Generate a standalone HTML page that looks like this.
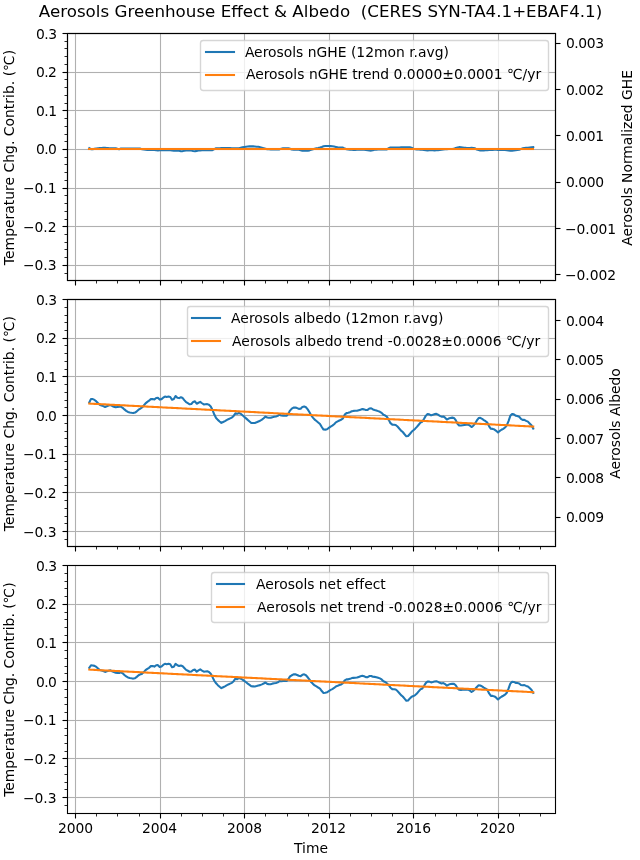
<!DOCTYPE html>
<html lang="en">
<head>
<meta charset="utf-8">
<title>Aerosols Greenhouse Effect &amp; Albedo (CERES SYN-TA4.1+EBAF4.1)</title>
<style>
html,body{margin:0;padding:0;background:#fff;}
body{width:640px;height:860px;overflow:hidden;}
svg{display:block;}
text{white-space:pre;}
</style>
</head>
<body>
<svg width="640" height="860" viewBox="0 0 640 860" role="img" aria-label="Aerosols Greenhouse Effect and Albedo">
<rect width="640" height="860" fill="#fff"/>
<g id="axes1">
<path d="M74 34h1v246h-1zM76 34h1v246h-1zM159 34h1v246h-1zM161 34h1v246h-1zM243 34h1v246h-1zM245 34h1v246h-1zM328 34h1v246h-1zM330 34h1v246h-1zM412 34h1v246h-1zM414 34h1v246h-1zM497 34h1v246h-1zM499 34h1v246h-1zM68 264h487v1h-487zM68 266h487v1h-487zM68 225h487v1h-487zM68 227h487v1h-487zM68 187h487v1h-487zM68 189h487v1h-487zM68 148h487v1h-487zM68 150h487v1h-487zM68 109h487v1h-487zM68 111h487v1h-487zM68 71h487v1h-487zM68 73h487v1h-487zM68 32h487v1h-487zM68 34h487v1h-487z" fill="#b0b0b0" fill-opacity="0.056"/>
<path d="M75 33h1v1h-1zM75 280h1v1h-1zM160 33h1v1h-1zM160 280h1v1h-1zM244 33h1v1h-1zM244 280h1v1h-1zM329 33h1v1h-1zM329 280h1v1h-1zM413 33h1v1h-1zM413 280h1v1h-1zM498 33h1v1h-1zM498 280h1v1h-1zM67 265h1v1h-1zM555 265h1v1h-1zM67 226h1v1h-1zM555 226h1v1h-1zM67 188h1v1h-1zM555 188h1v1h-1zM67 149h1v1h-1zM555 149h1v1h-1zM67 110h1v1h-1zM555 110h1v1h-1zM67 72h1v1h-1zM555 72h1v1h-1zM67 33h1v1h-1zM555 33h1v1h-1z" fill="#b0b0b0" fill-opacity="0.5"/>
<path d="M75 34h1v246h-1zM160 34h1v246h-1zM244 34h1v246h-1zM329 34h1v246h-1zM413 34h1v246h-1zM498 34h1v246h-1zM68 265h487v1h-487zM68 226h487v1h-487zM68 188h487v1h-487zM68 149h487v1h-487zM68 110h487v1h-487zM68 72h487v1h-487zM68 33h487v1h-487z" fill="#b0b0b0"/>
<polyline points="89.27,148.12 91,149.24 92.8,149.31 94.54,148.82 96.33,148.42 98.12,148.21 99.74,148.09 101.54,147.97 103.28,147.85 105.07,147.81 106.81,147.96 108.6,148.11 110.4,148.22 112.13,148.25 113.93,148.28 115.66,148.31 117.46,148.86 119.25,149.15 120.87,148.58 122.67,148.42 124.4,148.42 126.2,148.42 127.93,148.42 129.73,148.42 131.52,148.43 133.26,148.45 135.05,148.47 136.79,148.49 138.58,148.5 140.38,148.65 142,149.28 143.79,149.54 145.53,149.69 147.32,149.84 149.06,150 150.86,150.06 152.65,149.82 154.39,149.92 156.18,150.25 157.92,150.36 159.71,150.24 161.51,150.19 163.18,150.15 164.98,150.12 166.72,150.12 168.51,150.12 170.25,150.16 172.04,150.41 173.84,150.66 175.57,150.73 177.37,150.47 179.1,150.75 180.9,151.17 182.69,151.1 184.31,150.77 186.11,150.57 187.84,150.48 189.64,150.39 191.37,150.44 193.17,150.93 194.96,151.24 196.7,150.87 198.49,150.51 200.23,150.39 202.02,150.26 203.82,150.13 205.44,150.12 207.23,150.12 208.97,150.12 210.76,150.12 212.5,150.12 214.3,149.13 216.09,148.22 217.83,148.2 219.62,148.18 221.36,148.16 223.15,148.14 224.95,148.12 226.57,148.13 228.36,148.14 230.1,148.16 231.89,148.17 233.63,148.18 235.42,148.19 237.22,148.21 238.95,148.21 240.75,147.77 242.48,147.33 244.28,147.01 246.07,146.8 247.75,146.59 249.55,146.38 251.28,146.25 253.08,146.39 254.81,146.53 256.61,146.67 258.4,146.82 260.14,147.26 261.93,147.7 263.67,148.14 265.46,148.75 267.26,149.32 268.88,149.33 270.67,149.35 272.41,149.36 274.2,149.37 275.94,149.39 277.74,149.4 279.53,149.41 281.27,148.64 283.06,148.22 284.8,148.22 286.59,148.22 288.39,148.22 290.01,148.74 291.8,149.56 293.54,149.66 295.33,149.7 297.07,149.75 298.86,149.79 300.66,150.27 302.39,150.82 304.19,150.82 305.92,150.82 307.72,150.82 309.51,150.37 311.13,149.83 312.93,149.18 314.67,148.66 316.46,148.31 318.2,147.94 319.99,147.47 321.78,146.92 323.52,146.27 325.32,146.06 327.05,145.99 328.85,145.92 330.64,146.1 332.32,146.3 334.11,146.58 335.85,146.96 337.64,147.35 339.38,147.48 341.18,147.55 342.97,147.62 344.71,148.58 346.5,149.18 348.24,149.44 350.03,149.59 351.83,149.73 353.45,149.88 355.24,149.84 356.98,149.74 358.77,149.64 360.51,149.54 362.3,149.65 364.1,149.83 365.83,150 367.63,150.21 369.36,150.42 371.16,150.59 372.95,150.19 374.57,149.8 376.37,149.6 378.11,149.55 379.9,149.51 381.64,149.47 383.43,149.43 385.22,149.42 386.96,149.41 388.76,148.24 390.49,147.42 392.29,147.42 394.08,147.42 395.7,147.42 397.5,147.42 399.23,147.42 401.03,147.41 402.76,147.39 404.56,147.37 406.35,147.35 408.09,147.34 409.88,147.32 411.62,147.79 413.41,148.64 415.21,149.32 416.89,149.53 418.68,149.56 420.42,149.59 422.21,149.65 423.95,149.9 425.74,150.16 427.54,150.41 429.27,150.17 431.07,149.92 432.8,150.14 434.6,150.36 436.39,150.28 438.01,150.11 439.81,149.93 441.55,149.72 443.34,149.5 445.08,149.3 446.87,149.13 448.66,148.95 450.4,148.98 452.2,149.06 453.93,148.83 455.73,147.96 457.52,147.51 459.14,147.14 460.94,147.32 462.67,147.49 464.47,147.68 466.2,147.88 468,147.99 469.79,147.92 471.53,147.84 473.32,148.04 475.06,148.39 476.85,149.52 478.65,150.05 480.27,150.58 482.06,150.51 483.8,150.39 485.59,150.27 487.33,150.16 489.13,150.06 490.92,149.96 492.66,149.87 494.45,149.77 496.19,149.81 497.98,150.02 499.78,149.95 501.45,149.88 503.25,149.86 504.99,150.09 506.78,150.31 508.52,150.51 510.31,150.72 512.1,150.69 513.84,150.43 515.64,150.17 517.37,149.91 519.17,149.65 520.96,149.02 522.58,148.38 524.38,148.11 526.11,147.9 527.91,147.72 529.64,147.53 531.44,147.33 533.23,147.12" fill="none" stroke="#1f77b4" stroke-width="2.08" stroke-linejoin="round" stroke-linecap="square"/>
<path d="M87 148h1v2h-1zM88 147h446v1h-446zM88 150h446v1h-446zM534 148h1v2h-1z" fill="#ff7f0e" fill-opacity="0.042"/>
<path d="M88 148h446v2h-446z" fill="#ff7f0e"/>
<path d="M74 281h1v4h-1zM76 281h1v4h-1zM159 281h1v4h-1zM161 281h1v4h-1zM243 281h1v4h-1zM245 281h1v4h-1zM328 281h1v4h-1zM330 281h1v4h-1zM412 281h1v4h-1zM414 281h1v4h-1zM497 281h1v4h-1zM499 281h1v4h-1zM63 264h4v1h-4zM63 266h4v1h-4zM63 225h4v1h-4zM63 227h4v1h-4zM63 187h4v1h-4zM63 189h4v1h-4zM63 148h4v1h-4zM63 150h4v1h-4zM63 109h4v1h-4zM63 111h4v1h-4zM63 71h4v1h-4zM63 73h4v1h-4zM63 32h4v1h-4zM63 34h4v1h-4z" fill="#000" fill-opacity="0.056"/>
<path d="M75 280h1v1h-1zM75 285h1v1h-1zM160 280h1v1h-1zM160 285h1v1h-1zM244 280h1v1h-1zM244 285h1v1h-1zM329 280h1v1h-1zM329 285h1v1h-1zM413 280h1v1h-1zM413 285h1v1h-1zM498 280h1v1h-1zM498 285h1v1h-1zM62 265h1v1h-1zM67 265h1v1h-1zM62 226h1v1h-1zM67 226h1v1h-1zM62 188h1v1h-1zM67 188h1v1h-1zM62 149h1v1h-1zM67 149h1v1h-1zM62 110h1v1h-1zM67 110h1v1h-1zM62 72h1v1h-1zM67 72h1v1h-1zM62 33h1v1h-1zM67 33h1v1h-1z" fill="#000" fill-opacity="0.5"/>
<path d="M75 281h1v4h-1zM160 281h1v4h-1zM244 281h1v4h-1zM329 281h1v4h-1zM413 281h1v4h-1zM498 281h1v4h-1zM63 265h4v1h-4zM63 226h4v1h-4zM63 188h4v1h-4zM63 149h4v1h-4zM63 110h4v1h-4zM63 72h4v1h-4zM63 33h4v1h-4z" fill="#000"/>
<path d="M96 280h1v1h-1zM96 283h1v1h-1zM117 280h1v1h-1zM117 283h1v1h-1zM139 280h1v1h-1zM139 283h1v1h-1zM181 280h1v1h-1zM181 283h1v1h-1zM202 280h1v1h-1zM202 283h1v1h-1zM223 280h1v1h-1zM223 283h1v1h-1zM265 280h1v1h-1zM265 283h1v1h-1zM287 280h1v1h-1zM287 283h1v1h-1zM308 280h1v1h-1zM308 283h1v1h-1zM350 280h1v1h-1zM350 283h1v1h-1zM371 280h1v1h-1zM371 283h1v1h-1zM392 280h1v1h-1zM392 283h1v1h-1zM435 280h1v1h-1zM435 283h1v1h-1zM456 280h1v1h-1zM456 283h1v1h-1zM477 280h1v1h-1zM477 283h1v1h-1zM519 280h1v1h-1zM519 283h1v1h-1zM540 280h1v1h-1zM540 283h1v1h-1zM64 273h1v1h-1zM67 273h1v1h-1zM64 257h1v1h-1zM67 257h1v1h-1zM64 249h1v1h-1zM67 249h1v1h-1zM64 242h1v1h-1zM67 242h1v1h-1zM64 234h1v1h-1zM67 234h1v1h-1zM64 219h1v1h-1zM67 219h1v1h-1zM64 211h1v1h-1zM67 211h1v1h-1zM64 203h1v1h-1zM67 203h1v1h-1zM64 195h1v1h-1zM67 195h1v1h-1zM64 180h1v1h-1zM67 180h1v1h-1zM64 172h1v1h-1zM67 172h1v1h-1zM64 164h1v1h-1zM67 164h1v1h-1zM64 157h1v1h-1zM67 157h1v1h-1zM64 141h1v1h-1zM67 141h1v1h-1zM64 134h1v1h-1zM67 134h1v1h-1zM64 126h1v1h-1zM67 126h1v1h-1zM64 118h1v1h-1zM67 118h1v1h-1zM64 103h1v1h-1zM67 103h1v1h-1zM64 95h1v1h-1zM67 95h1v1h-1zM64 87h1v1h-1zM67 87h1v1h-1zM64 79h1v1h-1zM67 79h1v1h-1zM64 64h1v1h-1zM67 64h1v1h-1zM64 56h1v1h-1zM67 56h1v1h-1zM64 48h1v1h-1zM67 48h1v1h-1zM64 41h1v1h-1zM67 41h1v1h-1z" fill="#000" fill-opacity="0.417"/>
<path d="M96 281h1v2h-1zM117 281h1v2h-1zM139 281h1v2h-1zM181 281h1v2h-1zM202 281h1v2h-1zM223 281h1v2h-1zM265 281h1v2h-1zM287 281h1v2h-1zM308 281h1v2h-1zM350 281h1v2h-1zM371 281h1v2h-1zM392 281h1v2h-1zM435 281h1v2h-1zM456 281h1v2h-1zM477 281h1v2h-1zM519 281h1v2h-1zM540 281h1v2h-1zM65 273h2v1h-2zM65 257h2v1h-2zM65 249h2v1h-2zM65 242h2v1h-2zM65 234h2v1h-2zM65 219h2v1h-2zM65 211h2v1h-2zM65 203h2v1h-2zM65 195h2v1h-2zM65 180h2v1h-2zM65 172h2v1h-2zM65 164h2v1h-2zM65 157h2v1h-2zM65 141h2v1h-2zM65 134h2v1h-2zM65 126h2v1h-2zM65 118h2v1h-2zM65 103h2v1h-2zM65 95h2v1h-2zM65 87h2v1h-2zM65 79h2v1h-2zM65 64h2v1h-2zM65 56h2v1h-2zM65 48h2v1h-2zM65 41h2v1h-2z" fill="#000" fill-opacity="0.833"/>
<path d="M66 33h1v248h-1zM67 32h1v1h-1zM67 281h1v1h-1zM68 33h1v248h-1zM554 33h1v248h-1zM555 32h1v1h-1zM555 281h1v1h-1zM556 33h1v248h-1zM66 280h1v1h-1zM67 279h489v1h-489zM67 281h489v1h-489zM556 280h1v1h-1zM66 33h1v1h-1zM67 32h489v1h-489zM67 34h489v1h-489zM556 33h1v1h-1z" fill="#000" fill-opacity="0.056"/>
<path d="M67 33h1v248h-1zM555 33h1v248h-1zM67 280h489v1h-489zM67 33h489v1h-489z" fill="#000"/>
<rect x="200.5" y="40.5" width="348" height="50" rx="2.8" ry="2.8" fill="#fff" fill-opacity="0.8" stroke="#ccc" stroke-opacity="0.8" stroke-width="1.389"/>
<path d="M204 51h1v2h-1zM205 50h30v1h-30zM205 53h30v1h-30zM235 51h1v2h-1z" fill="#1f77b4" fill-opacity="0.042"/>
<path d="M205 51h30v2h-30z" fill="#1f77b4"/>
<path d="M204 74h1v2h-1zM205 73h30v1h-30zM205 76h30v1h-30zM235 74h1v2h-1z" fill="#ff7f0e" fill-opacity="0.042"/>
<path d="M205 74h30v2h-30z" fill="#ff7f0e"/>
</g>
<g id="axes2">
<path d="M74 300h1v246h-1zM76 300h1v246h-1zM159 300h1v246h-1zM161 300h1v246h-1zM243 300h1v246h-1zM245 300h1v246h-1zM328 300h1v246h-1zM330 300h1v246h-1zM412 300h1v246h-1zM414 300h1v246h-1zM497 300h1v246h-1zM499 300h1v246h-1zM68 530h487v1h-487zM68 532h487v1h-487zM68 491h487v1h-487zM68 493h487v1h-487zM68 453h487v1h-487zM68 455h487v1h-487zM68 414h487v1h-487zM68 416h487v1h-487zM68 375h487v1h-487zM68 377h487v1h-487zM68 337h487v1h-487zM68 339h487v1h-487zM68 298h487v1h-487zM68 300h487v1h-487z" fill="#b0b0b0" fill-opacity="0.056"/>
<path d="M75 299h1v1h-1zM75 546h1v1h-1zM160 299h1v1h-1zM160 546h1v1h-1zM244 299h1v1h-1zM244 546h1v1h-1zM329 299h1v1h-1zM329 546h1v1h-1zM413 299h1v1h-1zM413 546h1v1h-1zM498 299h1v1h-1zM498 546h1v1h-1zM67 531h1v1h-1zM555 531h1v1h-1zM67 492h1v1h-1zM555 492h1v1h-1zM67 454h1v1h-1zM555 454h1v1h-1zM67 415h1v1h-1zM555 415h1v1h-1zM67 376h1v1h-1zM555 376h1v1h-1zM67 338h1v1h-1zM555 338h1v1h-1zM67 299h1v1h-1zM555 299h1v1h-1z" fill="#b0b0b0" fill-opacity="0.5"/>
<path d="M75 300h1v246h-1zM160 300h1v246h-1zM244 300h1v246h-1zM329 300h1v246h-1zM413 300h1v246h-1zM498 300h1v246h-1zM68 531h487v1h-487zM68 492h487v1h-487zM68 454h487v1h-487zM68 415h487v1h-487zM68 376h487v1h-487zM68 338h487v1h-487zM68 299h487v1h-487z" fill="#b0b0b0"/>
<polyline points="89.27,402.52 91,398.92 92.8,399.07 94.54,399.94 96.33,401.42 98.12,403.29 99.74,404.75 101.54,405.52 103.28,406.13 105.07,407.01 106.81,406.32 108.6,405.59 110.4,405 112.13,405.93 113.93,406.69 115.66,407.25 117.46,407.01 119.25,406.74 120.87,406.64 122.67,407.79 124.4,409.43 126.2,410.87 127.93,411.97 129.73,412.41 131.52,412.77 133.26,413.06 135.05,412.58 136.79,411.29 138.58,409.67 140.38,408.55 142,407.49 143.79,405.45 145.53,403.38 147.32,401.92 149.06,400.67 150.86,398.98 152.65,399.09 154.39,399.57 156.18,397.91 157.92,397.68 159.71,399.59 161.51,399.12 163.18,397.69 164.98,396.52 166.72,396.96 168.51,396.52 170.25,396.94 172.04,399.77 173.84,399.05 175.57,396.01 177.37,397.68 179.1,398.1 180.9,397.24 182.69,398.04 184.31,400.06 186.11,402.19 187.84,403.22 189.64,404.29 191.37,403.96 193.17,401.93 194.96,401.3 196.7,403.75 198.49,402.77 200.23,401.92 202.02,403.26 203.82,404.47 205.44,404.23 207.23,404.11 208.97,404.77 210.76,406.52 212.5,409.92 214.3,414.55 216.09,417.96 217.83,419.88 219.62,421.47 221.36,422.87 223.15,421.99 224.95,421.09 226.57,420.14 228.36,419.2 230.1,418.39 231.89,417.58 233.63,415.89 235.42,413.38 237.22,413.83 238.95,412.8 240.75,413.81 242.48,415.19 244.28,416.84 246.07,418.37 247.75,419.88 249.55,421.42 251.28,422.92 253.08,422.92 254.81,422.92 256.61,422.26 258.4,421.51 260.14,420.75 261.93,419.59 263.67,418.26 265.46,416.64 267.26,417.47 268.88,417.82 270.67,417.79 272.41,417.16 274.2,416.83 275.94,416.57 277.74,415.88 279.53,414.54 281.27,415.54 283.06,415.61 284.8,415.53 286.59,415.72 288.39,413.62 290.01,410.59 291.8,408.61 293.54,407.61 295.33,407.42 297.07,408.09 298.86,408.91 300.66,408.75 302.39,406.9 304.19,406.44 305.92,407.3 307.72,409.39 309.51,412.22 311.13,415.14 312.93,417.58 314.67,419.67 316.46,421.04 318.2,422.48 319.99,423.98 321.78,427.03 323.52,429.58 325.32,429.63 327.05,429.26 328.85,427.97 330.64,426.65 332.32,425.68 334.11,424.27 335.85,422.4 337.64,421.38 339.38,420.46 341.18,419.8 342.97,418.4 344.71,414.64 346.5,413.13 348.24,412.82 350.03,412.17 351.83,411.24 353.45,410.91 355.24,410.82 356.98,410.74 358.77,410.21 360.51,409.66 362.3,409.1 364.1,409.38 365.83,409.98 367.63,409.9 369.36,408.51 371.16,408.26 372.95,409.46 374.57,409.98 376.37,410.5 378.11,411.13 379.9,411.77 381.64,412.85 383.43,414.77 385.22,415.5 386.96,416.86 388.76,419.87 390.49,423.17 392.29,424.63 394.08,424.82 395.7,425.02 397.5,426.56 399.23,428.49 401.03,430.58 402.76,432.02 404.56,434.22 406.35,436.31 408.09,436.03 409.88,434 411.62,431.82 413.41,430.31 415.21,428.64 416.89,426.9 418.68,424.76 420.42,422.64 422.21,421.8 423.95,419.02 425.74,415.87 427.54,414.08 429.27,414.37 431.07,415.37 432.8,414.83 434.6,414.11 436.39,413.79 438.01,414.67 439.81,415.81 441.55,416.67 443.34,416.48 445.08,417.68 446.87,419.47 448.66,418.59 450.4,417.97 452.2,417.64 453.93,417.93 455.73,420.17 457.52,423.71 459.14,425.55 460.94,425.54 462.67,425.22 464.47,424.98 466.2,424.75 468,424.38 469.79,425.52 471.53,427.04 473.32,425.72 475.06,423.55 476.85,420.41 478.65,418.06 480.27,417.79 482.06,418.79 483.8,420.1 485.59,421.2 487.33,422.62 489.13,426.32 490.92,428.8 492.66,428.9 494.45,429.58 496.19,430.79 497.98,432.42 499.78,430.89 501.45,429.76 503.25,428.8 504.99,427.53 506.78,425.31 508.52,421.08 510.31,415.83 512.1,413.93 513.84,414.38 515.64,415.61 517.37,415.98 519.17,416.69 520.96,418.92 522.58,419.84 524.38,419.88 526.11,420.91 527.91,421.65 529.64,423.47 531.44,425.29 533.23,428.62" fill="none" stroke="#1f77b4" stroke-width="2.08" stroke-linejoin="round" stroke-linecap="square"/>
<polyline points="89.27,403.58 91,403.67 92.8,403.77 94.54,403.86 96.33,403.95 98.12,404.04 99.74,404.13 101.54,404.22 103.28,404.31 105.07,404.4 106.81,404.5 108.6,404.59 110.4,404.68 112.13,404.77 113.93,404.86 115.66,404.95 117.46,405.04 119.25,405.14 120.87,405.23 122.67,405.32 124.4,405.41 126.2,405.5 127.93,405.59 129.73,405.68 131.52,405.77 133.26,405.87 135.05,405.96 136.79,406.05 138.58,406.14 140.38,406.23 142,406.32 143.79,406.41 145.53,406.5 147.32,406.6 149.06,406.69 150.86,406.78 152.65,406.87 154.39,406.96 156.18,407.05 157.92,407.14 159.71,407.23 161.51,407.33 163.18,407.42 164.98,407.51 166.72,407.6 168.51,407.69 170.25,407.78 172.04,407.87 173.84,407.96 175.57,408.06 177.37,408.15 179.1,408.24 180.9,408.33 182.69,408.42 184.31,408.51 186.11,408.6 187.84,408.69 189.64,408.79 191.37,408.88 193.17,408.97 194.96,409.06 196.7,409.15 198.49,409.24 200.23,409.33 202.02,409.43 203.82,409.52 205.44,409.61 207.23,409.7 208.97,409.79 210.76,409.88 212.5,409.97 214.3,410.06 216.09,410.16 217.83,410.25 219.62,410.34 221.36,410.43 223.15,410.52 224.95,410.61 226.57,410.7 228.36,410.79 230.1,410.89 231.89,410.98 233.63,411.07 235.42,411.16 237.22,411.25 238.95,411.34 240.75,411.43 242.48,411.52 244.28,411.62 246.07,411.71 247.75,411.8 249.55,411.89 251.28,411.98 253.08,412.07 254.81,412.16 256.61,412.25 258.4,412.35 260.14,412.44 261.93,412.53 263.67,412.62 265.46,412.71 267.26,412.8 268.88,412.89 270.67,412.99 272.41,413.08 274.2,413.17 275.94,413.26 277.74,413.35 279.53,413.44 281.27,413.53 283.06,413.62 284.8,413.72 286.59,413.81 288.39,413.9 290.01,413.99 291.8,414.08 293.54,414.17 295.33,414.26 297.07,414.35 298.86,414.45 300.66,414.54 302.39,414.63 304.19,414.72 305.92,414.81 307.72,414.9 309.51,414.99 311.13,415.08 312.93,415.18 314.67,415.27 316.46,415.36 318.2,415.45 319.99,415.54 321.78,415.63 323.52,415.72 325.32,415.81 327.05,415.91 328.85,416 330.64,416.09 332.32,416.18 334.11,416.27 335.85,416.36 337.64,416.45 339.38,416.55 341.18,416.64 342.97,416.73 344.71,416.82 346.5,416.91 348.24,417 350.03,417.09 351.83,417.18 353.45,417.28 355.24,417.37 356.98,417.46 358.77,417.55 360.51,417.64 362.3,417.73 364.1,417.82 365.83,417.91 367.63,418.01 369.36,418.1 371.16,418.19 372.95,418.28 374.57,418.37 376.37,418.46 378.11,418.55 379.9,418.64 381.64,418.74 383.43,418.83 385.22,418.92 386.96,419.01 388.76,419.1 390.49,419.19 392.29,419.28 394.08,419.37 395.7,419.47 397.5,419.56 399.23,419.65 401.03,419.74 402.76,419.83 404.56,419.92 406.35,420.01 408.09,420.11 409.88,420.2 411.62,420.29 413.41,420.38 415.21,420.47 416.89,420.56 418.68,420.65 420.42,420.74 422.21,420.84 423.95,420.93 425.74,421.02 427.54,421.11 429.27,421.2 431.07,421.29 432.8,421.38 434.6,421.47 436.39,421.57 438.01,421.66 439.81,421.75 441.55,421.84 443.34,421.93 445.08,422.02 446.87,422.11 448.66,422.2 450.4,422.3 452.2,422.39 453.93,422.48 455.73,422.57 457.52,422.66 459.14,422.75 460.94,422.84 462.67,422.93 464.47,423.03 466.2,423.12 468,423.21 469.79,423.3 471.53,423.39 473.32,423.48 475.06,423.57 476.85,423.67 478.65,423.76 480.27,423.85 482.06,423.94 483.8,424.03 485.59,424.12 487.33,424.21 489.13,424.3 490.92,424.4 492.66,424.49 494.45,424.58 496.19,424.67 497.98,424.76 499.78,424.85 501.45,424.94 503.25,425.03 504.99,425.13 506.78,425.22 508.52,425.31 510.31,425.4 512.1,425.49 513.84,425.58 515.64,425.67 517.37,425.76 519.17,425.86 520.96,425.95 522.58,426.04 524.38,426.13 526.11,426.22 527.91,426.31 529.64,426.4 531.44,426.49 533.23,426.59" fill="none" stroke="#ff7f0e" stroke-width="2.08" stroke-linejoin="round" stroke-linecap="square"/>
<path d="M74 547h1v4h-1zM76 547h1v4h-1zM159 547h1v4h-1zM161 547h1v4h-1zM243 547h1v4h-1zM245 547h1v4h-1zM328 547h1v4h-1zM330 547h1v4h-1zM412 547h1v4h-1zM414 547h1v4h-1zM497 547h1v4h-1zM499 547h1v4h-1zM63 530h4v1h-4zM63 532h4v1h-4zM63 491h4v1h-4zM63 493h4v1h-4zM63 453h4v1h-4zM63 455h4v1h-4zM63 414h4v1h-4zM63 416h4v1h-4zM63 375h4v1h-4zM63 377h4v1h-4zM63 337h4v1h-4zM63 339h4v1h-4zM63 298h4v1h-4zM63 300h4v1h-4z" fill="#000" fill-opacity="0.056"/>
<path d="M75 546h1v1h-1zM75 551h1v1h-1zM160 546h1v1h-1zM160 551h1v1h-1zM244 546h1v1h-1zM244 551h1v1h-1zM329 546h1v1h-1zM329 551h1v1h-1zM413 546h1v1h-1zM413 551h1v1h-1zM498 546h1v1h-1zM498 551h1v1h-1zM62 531h1v1h-1zM67 531h1v1h-1zM62 492h1v1h-1zM67 492h1v1h-1zM62 454h1v1h-1zM67 454h1v1h-1zM62 415h1v1h-1zM67 415h1v1h-1zM62 376h1v1h-1zM67 376h1v1h-1zM62 338h1v1h-1zM67 338h1v1h-1zM62 299h1v1h-1zM67 299h1v1h-1z" fill="#000" fill-opacity="0.5"/>
<path d="M75 547h1v4h-1zM160 547h1v4h-1zM244 547h1v4h-1zM329 547h1v4h-1zM413 547h1v4h-1zM498 547h1v4h-1zM63 531h4v1h-4zM63 492h4v1h-4zM63 454h4v1h-4zM63 415h4v1h-4zM63 376h4v1h-4zM63 338h4v1h-4zM63 299h4v1h-4z" fill="#000"/>
<path d="M96 546h1v1h-1zM96 549h1v1h-1zM117 546h1v1h-1zM117 549h1v1h-1zM139 546h1v1h-1zM139 549h1v1h-1zM181 546h1v1h-1zM181 549h1v1h-1zM202 546h1v1h-1zM202 549h1v1h-1zM223 546h1v1h-1zM223 549h1v1h-1zM265 546h1v1h-1zM265 549h1v1h-1zM287 546h1v1h-1zM287 549h1v1h-1zM308 546h1v1h-1zM308 549h1v1h-1zM350 546h1v1h-1zM350 549h1v1h-1zM371 546h1v1h-1zM371 549h1v1h-1zM392 546h1v1h-1zM392 549h1v1h-1zM435 546h1v1h-1zM435 549h1v1h-1zM456 546h1v1h-1zM456 549h1v1h-1zM477 546h1v1h-1zM477 549h1v1h-1zM519 546h1v1h-1zM519 549h1v1h-1zM540 546h1v1h-1zM540 549h1v1h-1zM64 539h1v1h-1zM67 539h1v1h-1zM64 523h1v1h-1zM67 523h1v1h-1zM64 516h1v1h-1zM67 516h1v1h-1zM64 508h1v1h-1zM67 508h1v1h-1zM64 500h1v1h-1zM67 500h1v1h-1zM64 485h1v1h-1zM67 485h1v1h-1zM64 477h1v1h-1zM67 477h1v1h-1zM64 469h1v1h-1zM67 469h1v1h-1zM64 461h1v1h-1zM67 461h1v1h-1zM64 446h1v1h-1zM67 446h1v1h-1zM64 438h1v1h-1zM67 438h1v1h-1zM64 431h1v1h-1zM67 431h1v1h-1zM64 423h1v1h-1zM67 423h1v1h-1zM64 407h1v1h-1zM67 407h1v1h-1zM64 400h1v1h-1zM67 400h1v1h-1zM64 392h1v1h-1zM67 392h1v1h-1zM64 384h1v1h-1zM67 384h1v1h-1zM64 369h1v1h-1zM67 369h1v1h-1zM64 361h1v1h-1zM67 361h1v1h-1zM64 353h1v1h-1zM67 353h1v1h-1zM64 345h1v1h-1zM67 345h1v1h-1zM64 330h1v1h-1zM67 330h1v1h-1zM64 322h1v1h-1zM67 322h1v1h-1zM64 315h1v1h-1zM67 315h1v1h-1zM64 307h1v1h-1zM67 307h1v1h-1z" fill="#000" fill-opacity="0.417"/>
<path d="M96 547h1v2h-1zM117 547h1v2h-1zM139 547h1v2h-1zM181 547h1v2h-1zM202 547h1v2h-1zM223 547h1v2h-1zM265 547h1v2h-1zM287 547h1v2h-1zM308 547h1v2h-1zM350 547h1v2h-1zM371 547h1v2h-1zM392 547h1v2h-1zM435 547h1v2h-1zM456 547h1v2h-1zM477 547h1v2h-1zM519 547h1v2h-1zM540 547h1v2h-1zM65 539h2v1h-2zM65 523h2v1h-2zM65 516h2v1h-2zM65 508h2v1h-2zM65 500h2v1h-2zM65 485h2v1h-2zM65 477h2v1h-2zM65 469h2v1h-2zM65 461h2v1h-2zM65 446h2v1h-2zM65 438h2v1h-2zM65 431h2v1h-2zM65 423h2v1h-2zM65 407h2v1h-2zM65 400h2v1h-2zM65 392h2v1h-2zM65 384h2v1h-2zM65 369h2v1h-2zM65 361h2v1h-2zM65 353h2v1h-2zM65 345h2v1h-2zM65 330h2v1h-2zM65 322h2v1h-2zM65 315h2v1h-2zM65 307h2v1h-2z" fill="#000" fill-opacity="0.833"/>
<path d="M66 299h1v248h-1zM67 298h1v1h-1zM67 547h1v1h-1zM68 299h1v248h-1zM554 299h1v248h-1zM555 298h1v1h-1zM555 547h1v1h-1zM556 299h1v248h-1zM66 546h1v1h-1zM67 545h489v1h-489zM67 547h489v1h-489zM556 546h1v1h-1zM66 299h1v1h-1zM67 298h489v1h-489zM67 300h489v1h-489zM556 299h1v1h-1z" fill="#000" fill-opacity="0.056"/>
<path d="M67 299h1v248h-1zM555 299h1v248h-1zM67 546h489v1h-489zM67 299h489v1h-489z" fill="#000"/>
<rect x="187.5" y="306.5" width="361" height="50" rx="2.8" ry="2.8" fill="#fff" fill-opacity="0.8" stroke="#ccc" stroke-opacity="0.8" stroke-width="1.389"/>
<path d="M190 317h1v2h-1zM191 316h30v1h-30zM191 319h30v1h-30zM221 317h1v2h-1z" fill="#1f77b4" fill-opacity="0.042"/>
<path d="M191 317h30v2h-30z" fill="#1f77b4"/>
<path d="M190 340h1v2h-1zM191 339h30v1h-30zM191 342h30v1h-30zM221 340h1v2h-1z" fill="#ff7f0e" fill-opacity="0.042"/>
<path d="M191 340h30v2h-30z" fill="#ff7f0e"/>
</g>
<g id="axes3">
<path d="M74 566h1v247h-1zM76 566h1v247h-1zM159 566h1v247h-1zM161 566h1v247h-1zM243 566h1v247h-1zM245 566h1v247h-1zM328 566h1v247h-1zM330 566h1v247h-1zM412 566h1v247h-1zM414 566h1v247h-1zM497 566h1v247h-1zM499 566h1v247h-1zM68 796h487v1h-487zM68 798h487v1h-487zM68 757h487v1h-487zM68 759h487v1h-487zM68 719h487v1h-487zM68 721h487v1h-487zM68 680h487v1h-487zM68 682h487v1h-487zM68 641h487v1h-487zM68 643h487v1h-487zM68 603h487v1h-487zM68 605h487v1h-487zM68 564h487v1h-487zM68 566h487v1h-487z" fill="#b0b0b0" fill-opacity="0.056"/>
<path d="M75 565h1v1h-1zM75 813h1v1h-1zM160 565h1v1h-1zM160 813h1v1h-1zM244 565h1v1h-1zM244 813h1v1h-1zM329 565h1v1h-1zM329 813h1v1h-1zM413 565h1v1h-1zM413 813h1v1h-1zM498 565h1v1h-1zM498 813h1v1h-1zM67 797h1v1h-1zM555 797h1v1h-1zM67 758h1v1h-1zM555 758h1v1h-1zM67 720h1v1h-1zM555 720h1v1h-1zM67 681h1v1h-1zM555 681h1v1h-1zM67 642h1v1h-1zM555 642h1v1h-1zM67 604h1v1h-1zM555 604h1v1h-1zM67 565h1v1h-1zM555 565h1v1h-1z" fill="#b0b0b0" fill-opacity="0.5"/>
<path d="M75 566h1v247h-1zM160 566h1v247h-1zM244 566h1v247h-1zM329 566h1v247h-1zM413 566h1v247h-1zM498 566h1v247h-1zM68 797h487v1h-487zM68 758h487v1h-487zM68 720h487v1h-487zM68 681h487v1h-487zM68 642h487v1h-487zM68 604h487v1h-487zM68 565h487v1h-487z" fill="#b0b0b0"/>
<polyline points="89.27,667.74 91,665.26 92.8,665.48 94.54,665.87 96.33,666.94 98.12,668.61 99.74,669.95 101.54,670.6 103.28,671.08 105.07,671.92 106.81,671.38 108.6,670.8 110.4,670.33 112.13,671.28 113.93,672.07 115.66,672.67 117.46,672.97 119.25,672.99 120.87,672.33 122.67,673.31 124.4,674.95 126.2,676.39 127.93,677.49 129.73,677.93 131.52,678.31 133.26,678.61 135.05,678.15 136.79,676.88 138.58,675.28 140.38,674.3 142,673.87 143.79,672.09 145.53,670.17 147.32,668.87 149.06,667.77 150.86,666.14 152.65,666.01 154.39,666.59 156.18,665.27 157.92,665.14 159.71,666.93 161.51,666.41 163.18,664.95 164.98,663.74 166.72,664.18 168.51,663.74 170.25,664.2 172.04,667.28 173.84,666.8 175.57,663.84 177.37,665.25 179.1,665.95 180.9,665.51 182.69,666.24 184.31,667.93 186.11,669.86 187.84,670.79 189.64,671.78 191.37,671.51 193.17,669.96 194.96,669.64 196.7,671.72 198.49,670.38 200.23,669.41 202.02,670.62 203.82,671.7 205.44,671.45 207.23,671.33 208.97,671.99 210.76,673.74 212.5,677.14 214.3,680.77 216.09,683.28 217.83,685.17 219.62,686.74 221.36,688.13 223.15,687.23 224.95,686.31 226.57,685.37 228.36,684.44 230.1,683.64 231.89,682.85 233.63,681.17 235.42,678.67 237.22,679.14 238.95,678.11 240.75,678.68 242.48,679.62 244.28,680.95 246.07,682.27 247.75,683.58 249.55,684.91 251.28,686.27 253.08,686.41 254.81,686.55 256.61,686.04 258.4,685.42 260.14,685.11 261.93,684.39 263.67,683.5 265.46,682.49 267.26,683.89 268.88,684.25 270.67,684.24 272.41,683.63 274.2,683.3 275.94,683.06 277.74,682.38 279.53,681.06 281.27,681.27 283.06,680.93 284.8,680.85 286.59,681.04 288.39,678.94 290.01,676.42 291.8,675.27 293.54,674.37 295.33,674.22 297.07,674.94 298.86,675.81 300.66,676.13 302.39,674.82 304.19,674.36 305.92,675.22 307.72,677.3 309.51,679.7 311.13,682.06 312.93,683.86 314.67,685.43 316.46,686.46 318.2,687.52 319.99,688.55 321.78,691.04 323.52,692.95 325.32,692.8 327.05,692.35 328.85,691 330.64,689.85 332.32,689.08 334.11,687.95 335.85,686.46 337.64,685.83 339.38,685.03 341.18,684.44 342.97,683.11 344.71,680.33 346.5,679.41 348.24,679.36 350.03,678.86 351.83,678.08 353.45,677.89 355.24,677.76 356.98,677.58 358.77,676.95 360.51,676.31 362.3,675.85 364.1,676.31 365.83,677.09 367.63,677.22 369.36,676.04 371.16,675.95 372.95,676.76 374.57,676.88 376.37,677.2 378.11,677.79 379.9,678.38 381.64,679.42 383.43,681.3 385.22,682.02 386.96,683.37 388.76,685.21 390.49,687.69 392.29,689.15 394.08,689.34 395.7,689.54 397.5,691.08 399.23,693.01 401.03,695.09 402.76,696.51 404.56,698.69 406.35,700.76 408.09,700.47 409.88,698.42 411.62,696.7 413.41,696.05 415.21,695.06 416.89,693.54 418.68,691.43 420.42,689.33 422.21,688.55 423.95,686.02 425.74,683.13 427.54,681.58 429.27,681.64 431.07,682.4 432.8,682.07 434.6,681.58 436.39,681.17 438.01,681.88 439.81,682.84 441.55,683.49 443.34,683.08 445.08,684.09 446.87,685.7 448.66,684.64 450.4,684.05 452.2,683.81 453.93,683.86 455.73,685.23 457.52,688.32 459.14,689.79 460.94,689.96 462.67,689.81 464.47,689.76 466.2,689.73 468,689.48 469.79,690.54 471.53,691.98 473.32,690.86 475.06,689.04 476.85,687.04 478.65,685.21 480.27,685.47 482.06,686.4 483.8,687.59 485.59,688.57 487.33,689.87 489.13,693.47 490.92,695.86 492.66,695.87 494.45,696.45 496.19,697.7 497.98,699.53 499.78,697.94 501.45,696.74 503.25,695.76 504.99,694.72 506.78,692.72 508.52,688.7 510.31,683.65 512.1,681.71 513.84,681.91 515.64,682.88 517.37,682.99 519.17,683.44 520.96,685.04 522.58,685.32 524.38,685.09 526.11,685.91 527.91,686.48 529.64,688.1 531.44,689.72 533.23,692.84" fill="none" stroke="#1f77b4" stroke-width="2.08" stroke-linejoin="round" stroke-linecap="square"/>
<polyline points="89.27,669.64 91,669.73 92.8,669.82 94.54,669.91 96.33,670 98.12,670.09 99.74,670.18 101.54,670.27 103.28,670.36 105.07,670.45 106.81,670.54 108.6,670.63 110.4,670.72 112.13,670.81 113.93,670.9 115.66,670.99 117.46,671.08 119.25,671.16 120.87,671.25 122.67,671.34 124.4,671.43 126.2,671.52 127.93,671.61 129.73,671.7 131.52,671.79 133.26,671.88 135.05,671.97 136.79,672.06 138.58,672.15 140.38,672.24 142,672.33 143.79,672.42 145.53,672.51 147.32,672.6 149.06,672.69 150.86,672.78 152.65,672.86 154.39,672.95 156.18,673.04 157.92,673.13 159.71,673.22 161.51,673.31 163.18,673.4 164.98,673.49 166.72,673.58 168.51,673.67 170.25,673.76 172.04,673.85 173.84,673.94 175.57,674.03 177.37,674.12 179.1,674.21 180.9,674.3 182.69,674.39 184.31,674.48 186.11,674.56 187.84,674.65 189.64,674.74 191.37,674.83 193.17,674.92 194.96,675.01 196.7,675.1 198.49,675.19 200.23,675.28 202.02,675.37 203.82,675.46 205.44,675.55 207.23,675.64 208.97,675.73 210.76,675.82 212.5,675.91 214.3,676 216.09,676.09 217.83,676.18 219.62,676.26 221.36,676.35 223.15,676.44 224.95,676.53 226.57,676.62 228.36,676.71 230.1,676.8 231.89,676.89 233.63,676.98 235.42,677.07 237.22,677.16 238.95,677.25 240.75,677.34 242.48,677.43 244.28,677.52 246.07,677.61 247.75,677.7 249.55,677.79 251.28,677.88 253.08,677.96 254.81,678.05 256.61,678.14 258.4,678.23 260.14,678.32 261.93,678.41 263.67,678.5 265.46,678.59 267.26,678.68 268.88,678.77 270.67,678.86 272.41,678.95 274.2,679.04 275.94,679.13 277.74,679.22 279.53,679.31 281.27,679.4 283.06,679.49 284.8,679.58 286.59,679.66 288.39,679.75 290.01,679.84 291.8,679.93 293.54,680.02 295.33,680.11 297.07,680.2 298.86,680.29 300.66,680.38 302.39,680.47 304.19,680.56 305.92,680.65 307.72,680.74 309.51,680.83 311.13,680.92 312.93,681.01 314.67,681.1 316.46,681.19 318.2,681.28 319.99,681.36 321.78,681.45 323.52,681.54 325.32,681.63 327.05,681.72 328.85,681.81 330.64,681.9 332.32,681.99 334.11,682.08 335.85,682.17 337.64,682.26 339.38,682.35 341.18,682.44 342.97,682.53 344.71,682.62 346.5,682.71 348.24,682.8 350.03,682.89 351.83,682.97 353.45,683.06 355.24,683.15 356.98,683.24 358.77,683.33 360.51,683.42 362.3,683.51 364.1,683.6 365.83,683.69 367.63,683.78 369.36,683.87 371.16,683.96 372.95,684.05 374.57,684.14 376.37,684.23 378.11,684.32 379.9,684.41 381.64,684.5 383.43,684.59 385.22,684.67 386.96,684.76 388.76,684.85 390.49,684.94 392.29,685.03 394.08,685.12 395.7,685.21 397.5,685.3 399.23,685.39 401.03,685.48 402.76,685.57 404.56,685.66 406.35,685.75 408.09,685.84 409.88,685.93 411.62,686.02 413.41,686.11 415.21,686.2 416.89,686.29 418.68,686.37 420.42,686.46 422.21,686.55 423.95,686.64 425.74,686.73 427.54,686.82 429.27,686.91 431.07,687 432.8,687.09 434.6,687.18 436.39,687.27 438.01,687.36 439.81,687.45 441.55,687.54 443.34,687.63 445.08,687.72 446.87,687.81 448.66,687.9 450.4,687.99 452.2,688.07 453.93,688.16 455.73,688.25 457.52,688.34 459.14,688.43 460.94,688.52 462.67,688.61 464.47,688.7 466.2,688.79 468,688.88 469.79,688.97 471.53,689.06 473.32,689.15 475.06,689.24 476.85,689.33 478.65,689.42 480.27,689.51 482.06,689.6 483.8,689.69 485.59,689.77 487.33,689.86 489.13,689.95 490.92,690.04 492.66,690.13 494.45,690.22 496.19,690.31 497.98,690.4 499.78,690.49 501.45,690.58 503.25,690.67 504.99,690.76 506.78,690.85 508.52,690.94 510.31,691.03 512.1,691.12 513.84,691.21 515.64,691.3 517.37,691.39 519.17,691.47 520.96,691.56 522.58,691.65 524.38,691.74 526.11,691.83 527.91,691.92 529.64,692.01 531.44,692.1 533.23,692.19" fill="none" stroke="#ff7f0e" stroke-width="2.08" stroke-linejoin="round" stroke-linecap="square"/>
<path d="M74 814h1v4h-1zM76 814h1v4h-1zM159 814h1v4h-1zM161 814h1v4h-1zM243 814h1v4h-1zM245 814h1v4h-1zM328 814h1v4h-1zM330 814h1v4h-1zM412 814h1v4h-1zM414 814h1v4h-1zM497 814h1v4h-1zM499 814h1v4h-1zM63 796h4v1h-4zM63 798h4v1h-4zM63 757h4v1h-4zM63 759h4v1h-4zM63 719h4v1h-4zM63 721h4v1h-4zM63 680h4v1h-4zM63 682h4v1h-4zM63 641h4v1h-4zM63 643h4v1h-4zM63 603h4v1h-4zM63 605h4v1h-4zM63 564h4v1h-4zM63 566h4v1h-4z" fill="#000" fill-opacity="0.056"/>
<path d="M75 813h1v1h-1zM75 818h1v1h-1zM160 813h1v1h-1zM160 818h1v1h-1zM244 813h1v1h-1zM244 818h1v1h-1zM329 813h1v1h-1zM329 818h1v1h-1zM413 813h1v1h-1zM413 818h1v1h-1zM498 813h1v1h-1zM498 818h1v1h-1zM62 797h1v1h-1zM67 797h1v1h-1zM62 758h1v1h-1zM67 758h1v1h-1zM62 720h1v1h-1zM67 720h1v1h-1zM62 681h1v1h-1zM67 681h1v1h-1zM62 642h1v1h-1zM67 642h1v1h-1zM62 604h1v1h-1zM67 604h1v1h-1zM62 565h1v1h-1zM67 565h1v1h-1z" fill="#000" fill-opacity="0.5"/>
<path d="M75 814h1v4h-1zM160 814h1v4h-1zM244 814h1v4h-1zM329 814h1v4h-1zM413 814h1v4h-1zM498 814h1v4h-1zM63 797h4v1h-4zM63 758h4v1h-4zM63 720h4v1h-4zM63 681h4v1h-4zM63 642h4v1h-4zM63 604h4v1h-4zM63 565h4v1h-4z" fill="#000"/>
<path d="M96 813h1v1h-1zM96 816h1v1h-1zM117 813h1v1h-1zM117 816h1v1h-1zM139 813h1v1h-1zM139 816h1v1h-1zM181 813h1v1h-1zM181 816h1v1h-1zM202 813h1v1h-1zM202 816h1v1h-1zM223 813h1v1h-1zM223 816h1v1h-1zM265 813h1v1h-1zM265 816h1v1h-1zM287 813h1v1h-1zM287 816h1v1h-1zM308 813h1v1h-1zM308 816h1v1h-1zM350 813h1v1h-1zM350 816h1v1h-1zM371 813h1v1h-1zM371 816h1v1h-1zM392 813h1v1h-1zM392 816h1v1h-1zM435 813h1v1h-1zM435 816h1v1h-1zM456 813h1v1h-1zM456 816h1v1h-1zM477 813h1v1h-1zM477 816h1v1h-1zM519 813h1v1h-1zM519 816h1v1h-1zM540 813h1v1h-1zM540 816h1v1h-1zM64 805h1v1h-1zM67 805h1v1h-1zM64 789h1v1h-1zM67 789h1v1h-1zM64 782h1v1h-1zM67 782h1v1h-1zM64 774h1v1h-1zM67 774h1v1h-1zM64 766h1v1h-1zM67 766h1v1h-1zM64 751h1v1h-1zM67 751h1v1h-1zM64 743h1v1h-1zM67 743h1v1h-1zM64 735h1v1h-1zM67 735h1v1h-1zM64 728h1v1h-1zM67 728h1v1h-1zM64 712h1v1h-1zM67 712h1v1h-1zM64 704h1v1h-1zM67 704h1v1h-1zM64 697h1v1h-1zM67 697h1v1h-1zM64 689h1v1h-1zM67 689h1v1h-1zM64 673h1v1h-1zM67 673h1v1h-1zM64 666h1v1h-1zM67 666h1v1h-1zM64 658h1v1h-1zM67 658h1v1h-1zM64 650h1v1h-1zM67 650h1v1h-1zM64 635h1v1h-1zM67 635h1v1h-1zM64 627h1v1h-1zM67 627h1v1h-1zM64 619h1v1h-1zM67 619h1v1h-1zM64 612h1v1h-1zM67 612h1v1h-1zM64 596h1v1h-1zM67 596h1v1h-1zM64 588h1v1h-1zM67 588h1v1h-1zM64 581h1v1h-1zM67 581h1v1h-1zM64 573h1v1h-1zM67 573h1v1h-1z" fill="#000" fill-opacity="0.417"/>
<path d="M96 814h1v2h-1zM117 814h1v2h-1zM139 814h1v2h-1zM181 814h1v2h-1zM202 814h1v2h-1zM223 814h1v2h-1zM265 814h1v2h-1zM287 814h1v2h-1zM308 814h1v2h-1zM350 814h1v2h-1zM371 814h1v2h-1zM392 814h1v2h-1zM435 814h1v2h-1zM456 814h1v2h-1zM477 814h1v2h-1zM519 814h1v2h-1zM540 814h1v2h-1zM65 805h2v1h-2zM65 789h2v1h-2zM65 782h2v1h-2zM65 774h2v1h-2zM65 766h2v1h-2zM65 751h2v1h-2zM65 743h2v1h-2zM65 735h2v1h-2zM65 728h2v1h-2zM65 712h2v1h-2zM65 704h2v1h-2zM65 697h2v1h-2zM65 689h2v1h-2zM65 673h2v1h-2zM65 666h2v1h-2zM65 658h2v1h-2zM65 650h2v1h-2zM65 635h2v1h-2zM65 627h2v1h-2zM65 619h2v1h-2zM65 612h2v1h-2zM65 596h2v1h-2zM65 588h2v1h-2zM65 581h2v1h-2zM65 573h2v1h-2z" fill="#000" fill-opacity="0.833"/>
<path d="M66 565h1v249h-1zM67 564h1v1h-1zM67 814h1v1h-1zM68 565h1v249h-1zM554 565h1v249h-1zM555 564h1v1h-1zM555 814h1v1h-1zM556 565h1v249h-1zM66 813h1v1h-1zM67 812h489v1h-489zM67 814h489v1h-489zM556 813h1v1h-1zM66 565h1v1h-1zM67 564h489v1h-489zM67 566h489v1h-489zM556 565h1v1h-1z" fill="#000" fill-opacity="0.056"/>
<path d="M67 565h1v249h-1zM555 565h1v249h-1zM67 813h489v1h-489zM67 565h489v1h-489z" fill="#000"/>
<rect x="211.5" y="572.5" width="337" height="50" rx="2.8" ry="2.8" fill="#fff" fill-opacity="0.8" stroke="#ccc" stroke-opacity="0.8" stroke-width="1.389"/>
<path d="M215 583h1v2h-1zM216 582h29v1h-29zM216 585h29v1h-29zM245 583h1v2h-1z" fill="#1f77b4" fill-opacity="0.042"/>
<path d="M216 583h29v2h-29z" fill="#1f77b4"/>
<path d="M215 606h1v2h-1zM216 605h29v1h-29zM216 608h29v1h-29zM245 606h1v2h-1z" fill="#ff7f0e" fill-opacity="0.042"/>
<path d="M216 606h29v2h-29z" fill="#ff7f0e"/>
</g>
<g id="twin1">
<path d="M555 274h1v1h-1zM560 274h1v1h-1zM555 228h1v1h-1zM560 228h1v1h-1zM555 182h1v1h-1zM560 182h1v1h-1zM555 135h1v1h-1zM560 135h1v1h-1zM555 89h1v1h-1zM560 89h1v1h-1zM555 43h1v1h-1zM560 43h1v1h-1z" fill="#000" fill-opacity="0.5"/>
<path d="M556 273h4v1h-4zM556 275h4v1h-4zM556 227h4v1h-4zM556 229h4v1h-4zM556 181h4v1h-4zM556 183h4v1h-4zM556 134h4v1h-4zM556 136h4v1h-4zM556 88h4v1h-4zM556 90h4v1h-4zM556 42h4v1h-4zM556 44h4v1h-4z" fill="#000" fill-opacity="0.056"/>
<path d="M556 274h4v1h-4zM556 228h4v1h-4zM556 182h4v1h-4zM556 135h4v1h-4zM556 89h4v1h-4zM556 43h4v1h-4z" fill="#000"/>
<path d="M66 33h1v248h-1zM67 32h1v1h-1zM67 281h1v1h-1zM68 33h1v248h-1zM554 33h1v248h-1zM555 32h1v1h-1zM555 281h1v1h-1zM556 33h1v248h-1zM66 280h1v1h-1zM67 279h489v1h-489zM67 281h489v1h-489zM556 280h1v1h-1zM66 33h1v1h-1zM67 32h489v1h-489zM67 34h489v1h-489zM556 33h1v1h-1z" fill="#000" fill-opacity="0.056"/>
<path d="M67 33h1v248h-1zM555 33h1v248h-1zM67 280h489v1h-489zM67 33h489v1h-489z" fill="#000"/>
</g>
<g id="twin2">
<path d="M555 320h1v1h-1zM560 320h1v1h-1zM555 359h1v1h-1zM560 359h1v1h-1zM555 399h1v1h-1zM560 399h1v1h-1zM555 438h1v1h-1zM560 438h1v1h-1zM555 477h1v1h-1zM560 477h1v1h-1zM555 517h1v1h-1zM560 517h1v1h-1z" fill="#000" fill-opacity="0.5"/>
<path d="M556 319h4v1h-4zM556 321h4v1h-4zM556 358h4v1h-4zM556 360h4v1h-4zM556 398h4v1h-4zM556 400h4v1h-4zM556 437h4v1h-4zM556 439h4v1h-4zM556 476h4v1h-4zM556 478h4v1h-4zM556 516h4v1h-4zM556 518h4v1h-4z" fill="#000" fill-opacity="0.056"/>
<path d="M556 320h4v1h-4zM556 359h4v1h-4zM556 399h4v1h-4zM556 438h4v1h-4zM556 477h4v1h-4zM556 517h4v1h-4z" fill="#000"/>
<path d="M66 299h1v248h-1zM67 298h1v1h-1zM67 547h1v1h-1zM68 299h1v248h-1zM554 299h1v248h-1zM555 298h1v1h-1zM555 547h1v1h-1zM556 299h1v248h-1zM66 546h1v1h-1zM67 545h489v1h-489zM67 547h489v1h-489zM556 546h1v1h-1zM66 299h1v1h-1zM67 298h489v1h-489zM67 300h489v1h-489zM556 299h1v1h-1z" fill="#000" fill-opacity="0.056"/>
<path d="M67 299h1v248h-1zM555 299h1v248h-1zM67 546h489v1h-489zM67 299h489v1h-489z" fill="#000"/>
</g>
<g id='labels' font-family='"DejaVu Sans", "Liberation Sans", sans-serif' fill='#000'>
<text transform="translate(320.5 16.67) scale(1.0930 1)" text-anchor="middle" font-size="15.278">Aerosols Greenhouse Effect &amp; Albedo  (CERES SYN-TA4.1+EBAF4.1)</text>
<text x="23.1" y="269.96" font-size="13.889" letter-spacing="-0.100">−0.3</text>
<text x="23.1" y="231.8" font-size="13.889" letter-spacing="-0.100">−0.2</text>
<text x="22.97" y="192.64" font-size="13.889" letter-spacing="-0.050">−0.1</text>
<text x="35.97" y="153.98" font-size="13.889" letter-spacing="-0.600">0.0</text>
<text x="36.1" y="115.82" font-size="13.889" letter-spacing="-0.600">0.1</text>
<text x="35.97" y="76.66" font-size="13.889" letter-spacing="-0.600">0.2</text>
<text x="35.97" y="38.5" font-size="13.889" letter-spacing="-0.500">0.3</text>
<text transform="translate(13.67 265.13) rotate(-90)" font-size="13.889" letter-spacing="0.030">Temperature Chg. Contrib. (℃)</text>
<text x="23.1" y="536.55" font-size="13.889" letter-spacing="-0.100">−0.3</text>
<text x="23.1" y="497.89" font-size="13.889" letter-spacing="-0.100">−0.2</text>
<text x="22.97" y="458.73" font-size="13.889" letter-spacing="-0.050">−0.1</text>
<text x="35.97" y="420.57" font-size="13.889" letter-spacing="-0.600">0.0</text>
<text x="36.1" y="381.9" font-size="13.889" letter-spacing="-0.600">0.1</text>
<text x="35.97" y="342.74" font-size="13.889" letter-spacing="-0.600">0.2</text>
<text x="35.97" y="304.58" font-size="13.889" letter-spacing="-0.500">0.3</text>
<text transform="translate(13.67 531.22) rotate(-90)" font-size="13.889" letter-spacing="0.030">Temperature Chg. Contrib. (℃)</text>
<text x="57.89" y="832.78" font-size="13.889">2000</text>
<text x="141.96" y="832.78" font-size="13.889" letter-spacing="-0.100">2004</text>
<text x="226.97" y="832.78" font-size="13.889" letter-spacing="-0.100">2008</text>
<text x="311.03" y="832.78" font-size="13.889" letter-spacing="-0.100">2012</text>
<text x="396.04" y="832.78" font-size="13.889" letter-spacing="-0.100">2016</text>
<text x="479.98" y="832.78" font-size="13.889" letter-spacing="-0.100">2020</text>
<text x="23.1" y="802.63" font-size="13.889" letter-spacing="-0.100">−0.3</text>
<text x="23.1" y="763.97" font-size="13.889" letter-spacing="-0.100">−0.2</text>
<text x="22.97" y="724.81" font-size="13.889" letter-spacing="-0.050">−0.1</text>
<text x="35.97" y="686.65" font-size="13.889" letter-spacing="-0.600">0.0</text>
<text x="36.1" y="647.99" font-size="13.889" letter-spacing="-0.600">0.1</text>
<text x="35.97" y="608.83" font-size="13.889" letter-spacing="-0.600">0.2</text>
<text x="35.97" y="570.67" font-size="13.889" letter-spacing="-0.500">0.3</text>
<text x="294" y="852.83" font-size="13.889">Time</text>
<text transform="translate(13.67 796.8) rotate(-90)" font-size="13.889">Temperature Chg. Contrib. (℃)</text>
<text x="564.9" y="279.87" font-size="13.889" letter-spacing="-0.030">−0.002</text>
<text x="564.9" y="233.56" font-size="13.889" letter-spacing="-0.030">−0.001</text>
<text x="565.9" y="186.75" font-size="13.889" letter-spacing="-0.400">0.000</text>
<text x="565.9" y="140.94" font-size="13.889" letter-spacing="-0.400">0.001</text>
<text x="565.9" y="94.63" font-size="13.889" letter-spacing="-0.400">0.002</text>
<text x="565.9" y="47.82" font-size="13.889" letter-spacing="-0.400">0.003</text>
<text transform="translate(631.58 245.7) rotate(-90)" font-size="13.889" letter-spacing="-0.015">Aerosols Normalized GHE</text>
<text x="565.9" y="325.62" font-size="13.889" letter-spacing="-0.400">0.004</text>
<text x="565.9" y="364.94" font-size="13.889" letter-spacing="-0.400">0.005</text>
<text x="565.9" y="403.75" font-size="13.889" letter-spacing="-0.400">0.006</text>
<text x="565.9" y="443.57" font-size="13.889" letter-spacing="-0.400">0.007</text>
<text x="565.9" y="482.89" font-size="13.889" letter-spacing="-0.400">0.008</text>
<text x="565.9" y="521.71" font-size="13.889" letter-spacing="-0.400">0.009</text>
<text transform="translate(619.71 478.72) rotate(-90)" font-size="13.889" letter-spacing="-0.030">Aerosols Albedo</text>
<text x="244.88" y="56.5" font-size="13.889">Aerosols nGHE (12mon r.avg)</text>
<text x="245.88" y="78.95" font-size="13.889" letter-spacing="0.015">Aerosols nGHE trend 0.0000±0.0001 ℃/yr</text>
<text x="231.12" y="322.58" font-size="13.889">Aerosols albedo (12mon r.avg)</text>
<text x="232.12" y="345.53" font-size="13.889">Aerosols albedo trend -0.0028±0.0006 ℃/yr</text>
<text x="256.09" y="588.67" font-size="13.889" letter-spacing="-0.015">Aerosols net effect</text>
<text x="257.09" y="611.61" font-size="13.889" letter-spacing="0.015">Aerosols net trend -0.0028±0.0006 ℃/yr</text>
</g>
</svg>
</body>
</html>
